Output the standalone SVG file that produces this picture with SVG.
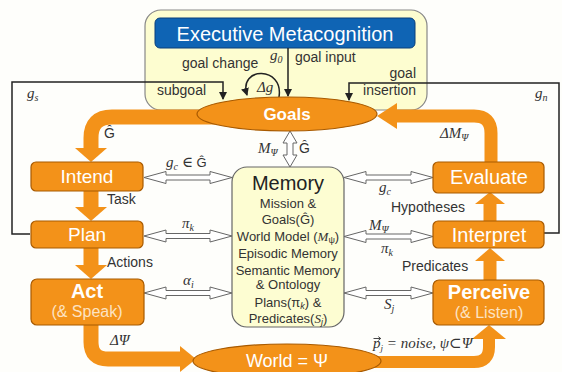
<svg xmlns="http://www.w3.org/2000/svg" width="562" height="372" viewBox="0 0 562 372">
<defs>
<style>
.box{fill:#f39219;stroke:#a85a00;stroke-width:1.2}
.bt{font-family:"Liberation Sans",Arial,sans-serif;fill:#fff;text-anchor:middle}
.lbl{font-family:"Liberation Sans",Arial,sans-serif;font-size:14px;fill:#333}
.mt{font-family:"Liberation Sans",Arial,sans-serif;font-size:13px;fill:#333;text-anchor:middle}
.m{font-family:"Liberation Serif","DejaVu Serif",serif;font-style:italic;font-size:15px;fill:#333}
.thick{fill:none;stroke:#f39219}
.head{fill:#f39219}
.ho{fill:#fff;stroke:#666;stroke-width:1}
.ln{fill:none;stroke:#222;stroke-width:1.5}
</style>
<marker id="ah" markerWidth="8" markerHeight="8" refX="7" refY="4" orient="auto" markerUnits="userSpaceOnUse"><path d="M0,0 L8,4 L0,8 Z" fill="#222"/></marker>
</defs>
<rect width="562" height="372" fill="#fefefb"/>

<g id="executive">
<rect x="145" y="10" width="282" height="100" rx="16" fill="#fdfdd0" stroke="#888" stroke-width="1.2"/>
<rect x="155" y="18" width="260" height="30" rx="5" fill="#0f64b4" stroke="#0a3f7a"/>
<text class="bt" x="285" y="41" font-size="20">Executive Metacognition</text>
</g>

<g id="connectors">
<path class="ln" d="M30 234 L12 234 L12 82 L223 82 L223 99" marker-end="url(#ah)"/>
<path class="ln" d="M544 233 L559 233 L559 83 L349 83 L349 100" marker-end="url(#ah)"/>
<path class="ln" d="M288 48 L288 96" marker-end="url(#ah)"/>
<path class="ln" d="M279 97 C284 66 238 66 247 95" marker-end="url(#ah)"/>

<path class="thick" stroke-width="15" d="M215 117 L112 117 Q91 117 91 138 L91 149"/>
<polygon class="head" points="75,148 107,148 91,162"/>
<path class="thick" stroke-width="15" d="M91 191 L91 208"/>
<polygon class="head" points="75,207 107,207 91,221"/>
<path class="thick" stroke-width="15" d="M91 247 L91 266"/>
<polygon class="head" points="75,265 107,265 91,279"/>
<path class="thick" stroke-width="15" d="M91 325 L91 342 Q91 359 108 359 L181 359"/>
<polygon class="head" points="180,346 196,359 180,372"/>
<path class="thick" stroke-width="12" d="M370 362 L474 362 Q489 362 489 347 L489 338"/>
<polygon class="head" points="472,339 489,325 506,339"/>
<path class="thick" stroke-width="13" d="M490 280 L490 260"/>
<polygon class="head" points="475,261 490,248 505,261"/>
<path class="thick" stroke-width="13" d="M490 221 L490 203"/>
<polygon class="head" points="475,204 490,192 505,204"/>
<path class="thick" stroke-width="13" d="M491 163 L491 133 Q491 116 474 116 L396 116"/>
<polygon class="head" points="397,103 377,116 397,129"/>

<polygon class="ho" points="144,177.5 166,171.5 166,175 210,175 210,171.5 232,177.5 210,183.5 210,180 166,180 166,183.5"/>
<polygon class="ho" points="144,236 166,230 166,233.5 210,233.5 210,230 232,236 210,242 210,238.5 166,238.5 166,242"/>
<polygon class="ho" points="144,293 166,287 166,290.5 210,290.5 210,287 232,293 210,299 210,295.5 166,295.5 166,299"/>
<polygon class="ho" points="344,177.5 366,171.5 366,175 411,175 411,171.5 433,177.5 411,183.5 411,180 366,180 366,183.5"/>
<polygon class="ho" points="344,236.5 366,230.5 366,234 411,234 411,230.5 433,236.5 411,242.5 411,239 366,239 366,242.5"/>
<polygon class="ho" points="344,293 366,287 366,290.5 411,290.5 411,287 433,293 411,299 411,295.5 366,295.5 366,299"/>
<polygon class="ho" points="290,131 297,143 293,143 293,155 297,155 290,167 283,155 287,155 287,143 283,143"/>

<text class="lbl" x="295" y="62">goal input</text>
<text class="lbl" x="182" y="68" font-size="13">goal change</text>
<text class="lbl" x="157" y="95">subgoal</text>
<text class="lbl" x="416" y="78" text-anchor="end">goal</text>
<text class="lbl" x="416" y="95" text-anchor="end">insertion</text>
<text class="lbl" x="107" y="204">Task</text>
<text class="lbl" x="107" y="267">Actions</text>
<text class="lbl" x="391" y="212">Hypotheses</text>
<text class="lbl" x="402" y="271">Predicates</text>

<text class="m" x="270" y="60">g<tspan font-size="10" dy="3">0</tspan></text>
<text class="m" x="257" y="92">Δg</text>
<text class="m" x="27" y="98">g<tspan font-size="10" dy="3">s</tspan></text>
<text class="m" x="535" y="98">g<tspan font-size="10" dy="3">n</tspan></text>
<text class="lbl" x="104" y="138" font-size="13">Ĝ</text>
<text class="m" x="440" y="138">ΔM<tspan font-size="10" dy="3">Ψ</tspan></text>
<text class="m" x="258" y="153">M<tspan font-size="10" dy="3">Ψ</tspan></text>
<text class="lbl" x="299" y="153" font-size="13">Ĝ</text>
<text class="m" x="166" y="167">g<tspan font-size="10" dy="3">c</tspan><tspan dy="-3" font-style="normal"> ∈ </tspan><tspan font-family="Liberation Sans,sans-serif" font-style="normal" font-size="13">Ĝ</tspan></text>
<text class="m" x="182" y="228">π<tspan font-size="10" dy="3">k</tspan></text>
<text class="m" x="183" y="285">α<tspan font-size="10" dy="3">i</tspan></text>
<text class="m" x="379" y="192">g<tspan font-size="10" dy="3">c</tspan></text>
<text class="m" x="369" y="230">M<tspan font-size="10" dy="3">Ψ</tspan></text>
<text class="m" x="381" y="253">π<tspan font-size="10" dy="3">k</tspan></text>
<text class="m" x="384" y="309">S<tspan font-size="10" dy="3">j</tspan></text>
<text class="m" x="110" y="345">ΔΨ</text>
<text class="m" x="373" y="348" font-size="12">p<tspan font-size="9" dy="3">j</tspan><tspan dy="-3"> = noise, ψ⊂Ψ</tspan></text>
<path d="M373.5 338.5 L380.5 338.5 M378.3 336.6 L380.7 338.5 L378.3 340.4" fill="none" stroke="#333" stroke-width="0.9"/>
</g>

<g id="goals">
<ellipse cx="287" cy="114" rx="90" ry="17" class="box"/>
<text class="bt" x="287" y="120" font-size="17" font-weight="bold">Goals</text>
</g>
<g id="world">
<ellipse cx="287" cy="361" rx="94" ry="17" class="box"/>
<text class="bt" x="287" y="367" font-size="18">World = Ψ</text>
</g>

<g id="intend"><rect class="box" x="31" y="162" width="112" height="29" rx="5"/><text class="bt" x="87" y="183" font-size="19">Intend</text></g>
<g id="plan"><rect class="box" x="31" y="221" width="112" height="27" rx="5"/><text class="bt" x="87" y="241" font-size="19">Plan</text></g>
<g id="act"><rect class="box" x="31" y="279" width="113" height="46" rx="6"/><text class="bt" x="87" y="298" font-size="20" font-weight="bold">Act</text><text class="bt" x="87" y="317" font-size="16" style="fill:#fde3c3">(&amp; Speak)</text></g>
<g id="evaluate"><rect class="box" x="433" y="162" width="111" height="31" rx="5"/><text class="bt" x="489" y="184" font-size="20">Evaluate</text></g>
<g id="interpret"><rect class="box" x="433" y="221" width="111" height="27" rx="5"/><text class="bt" x="489" y="242" font-size="20">Interpret</text></g>
<g id="perceive"><rect class="box" x="433" y="280" width="111" height="45" rx="6"/><text class="bt" x="489" y="299" font-size="20" font-weight="bold">Perceive</text><text class="bt" x="489" y="318" font-size="16" style="fill:#fde3c3">(&amp; Listen)</text></g>

<g id="memory">
<rect x="232" y="167" width="112" height="160" rx="15" fill="#fdfdd2" stroke="#666" stroke-width="1.2"/>
<text class="mt" x="288" y="190" style="font-size:20px;fill:#222">Memory</text>
<text class="mt" x="288" y="208">Mission &amp;</text>
<text class="mt" x="288" y="224">Goals(Ĝ)</text>
<text class="mt" x="288" y="241">World Model  (<tspan font-family="Liberation Serif,serif" font-style="italic">M</tspan><tspan font-size="9" dy="2">ψ</tspan><tspan dy="-2">)</tspan></text>
<text class="mt" x="288" y="258">Episodic Memory</text>
<text class="mt" x="288" y="275">Semantic Memory</text>
<text class="mt" x="288" y="289">&amp; Ontology</text>
<text class="mt" x="288" y="307">Plans(π<tspan font-size="9" dy="2" font-style="italic">k</tspan><tspan dy="-2">) &amp;</tspan></text>
<text class="mt" x="288" y="323">Predicates(<tspan font-family="Liberation Serif,serif" font-style="italic">S</tspan><tspan font-size="9" dy="2" font-style="italic">j</tspan><tspan dy="-2">)</tspan></text>
</g>
</svg>
